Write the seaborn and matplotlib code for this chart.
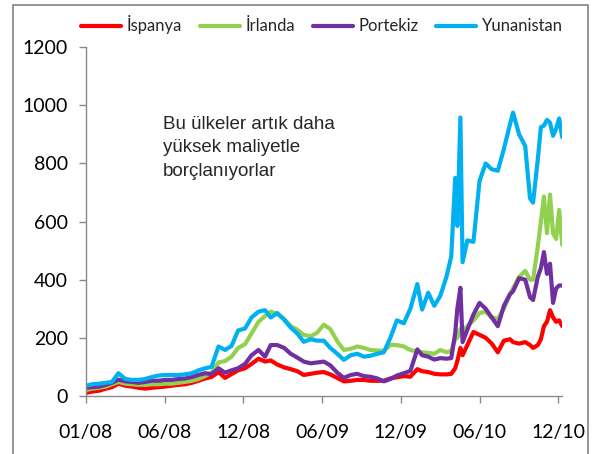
import pandas as pd
import matplotlib.pyplot as plt
from matplotlib.patches import Rectangle
import seaborn as sns

# === Data (spreads) ===
dates = [
    "2008-01-01", "2008-01-16", "2008-02-01", "2008-02-16", "2008-03-01", "2008-03-16",
    "2008-04-01", "2008-04-16", "2008-05-01", "2008-05-16", "2008-06-01", "2008-06-16",
    "2008-07-01", "2008-07-16", "2008-08-01", "2008-08-16", "2008-09-01", "2008-09-16",
    "2008-10-01", "2008-10-16", "2008-11-01", "2008-11-16", "2008-12-01", "2008-12-16",
    "2009-01-01", "2009-01-16", "2009-02-01", "2009-02-16", "2009-03-01", "2009-03-16",
    "2009-04-01", "2009-04-16", "2009-05-01", "2009-05-16", "2009-06-01", "2009-06-16",
    "2009-07-01", "2009-07-16", "2009-08-01", "2009-08-16", "2009-09-01", "2009-09-16",
    "2009-10-01", "2009-10-16", "2009-11-01", "2009-11-16", "2009-12-01", "2009-12-16",
    "2010-01-01", "2010-01-16", "2010-02-01", "2010-02-12", "2010-02-26", "2010-03-12",
    "2010-03-26", "2010-04-09", "2010-04-20", "2010-04-29", "2010-05-04", "2010-05-11",
    "2010-05-16", "2010-05-27", "2010-06-10", "2010-06-24", "2010-07-08", "2010-07-22",
    "2010-08-05", "2010-08-19", "2010-09-02", "2010-09-09", "2010-09-23", "2010-10-07",
    "2010-10-18", "2010-10-25", "2010-11-05", "2010-11-12", "2010-11-19", "2010-11-26",
    "2010-12-03", "2010-12-10", "2010-12-17", "2010-12-24", "2010-12-31",
]

ispanya = [
    10, 15, 18, 25, 30, 42, 35, 32, 28, 25, 28, 30,
    32, 35, 38, 40, 45, 52, 60, 65, 82, 62, 75, 88,
    95, 110, 128, 118, 122, 108, 98, 92, 85, 72, 76, 80,
    82, 74, 62, 50, 52, 55, 55, 52, 52, 52, 60, 64,
    68, 66, 92, 85, 82, 76, 74, 74, 76, 95, 120, 165,
    140, 175, 220, 210, 200, 180, 150, 190, 195, 185, 180, 185,
    175, 165, 175, 195, 240, 255, 295, 270, 255, 260, 240,
]

irlanda = [
    20, 25, 28, 32, 40, 48, 42, 40, 38, 38, 40, 40,
    42, 42, 45, 48, 52, 58, 68, 80, 115, 120, 135, 165,
    178, 215, 255, 275, 290, 282, 265, 240, 228, 210, 205, 218,
    245, 230, 188, 158, 162, 170, 165, 158, 156, 155, 175, 175,
    170, 158, 152, 150, 148, 145, 158, 150, 155, 195, 200, 230,
    225, 240, 260, 285, 290, 270, 265, 300, 350, 370, 410, 430,
    400, 400, 515, 600, 686, 560, 693, 560, 540, 640, 520,
]

portekiz = [
    28, 30, 32, 38, 45, 56, 50, 48, 45, 48, 52, 52,
    55, 55, 58, 60, 65, 72, 78, 75, 95, 80, 88, 95,
    110, 140, 158, 135, 175, 175, 165, 145, 132, 118, 112, 115,
    118, 105, 80, 62, 72, 76, 68, 66, 60, 50, 58, 70,
    78, 86, 160, 140, 135, 125, 130, 128, 130, 215, 300, 372,
    185, 228, 280, 320, 300, 270, 240, 310, 350, 360, 405, 400,
    340, 330, 410, 440, 495, 420, 455, 320, 370, 380, 380,
]

yunanistan = [
    35, 40, 42, 45, 48, 78, 58, 55, 55, 58, 65, 70,
    72, 72, 72, 74, 78, 88, 95, 100, 170, 158, 172, 225,
    232, 270, 290, 295, 270, 285, 262, 235, 215, 186, 195, 190,
    190, 165, 145, 124, 140, 145, 135, 138, 145, 150, 200, 260,
    250, 300, 385, 297, 355, 310, 345, 410, 480, 750, 585, 958,
    460, 535, 530, 740, 800, 780, 775, 850, 935, 975, 900, 860,
    680, 665, 815, 925, 930, 950, 940, 895, 920, 955, 890,
]

series_names = ["İspanya", "İrlanda", "Portekiz", "Yunanistan"]
series_colors = ["#FF0000", "#92D050", "#7030A0", "#00B0F0"]

tick_dates = ["2008-01-01", "2008-06-30", "2008-12-28", "2009-06-27",
              "2009-12-25", "2010-06-24", "2010-12-22"]
tick_labels = ["01/08", "06/08", "12/08", "06/09", "12/09", "06/10", "12/10"]
y_ticks = [0, 200, 400, 600, 800, 1000, 1200]

note = "Bu ülkeler artık daha\nyüksek maliyetle\nborçlanıyorlar"

# === Long format for seaborn ===
df = pd.DataFrame({"tarih": pd.to_datetime(dates)})
for name, vals in zip(series_names, [ispanya, irlanda, portekiz, yunanistan]):
    df[name] = vals
long_df = df.melt(id_vars="tarih", var_name="ulke", value_name="spread")

# === Plot ===
sns.set_theme(style="white")
plt.rcParams["font.family"] = ["Lato", "DejaVu Sans"]

fig = plt.figure(figsize=(6, 4.54), dpi=100)
ax = fig.add_axes([0.143, 0.128, 0.794, 0.768])

sns.lineplot(data=long_df, x="tarih", y="spread", hue="ulke",
             hue_order=series_names, palette=series_colors,
             linewidth=3.0, ax=ax, legend=False, sort=False)

ax.set_xlim(df["tarih"].iloc[0], df["tarih"].iloc[-1])
ax.set_ylim(0, 1200)
ax.set_yticks(y_ticks)
ax.set_xticks(pd.to_datetime(tick_dates))
ax.set_xticklabels(tick_labels)
ax.set_xlabel("")
ax.set_ylabel("")

for side in ["top", "right"]:
    ax.spines[side].set_visible(False)
for side in ["left", "bottom"]:
    ax.spines[side].set_color("#898989")
    ax.spines[side].set_linewidth(1.0)

ax.tick_params(axis="both", direction="out", length=5, width=1,
               color="#898989", labelsize=14, labelcolor="black",
               bottom=True, left=True)
ax.tick_params(axis="y", pad=8)
ax.tick_params(axis="x", pad=15)

# legend across the top
handles = ax.get_lines()[:4]
fig.legend(handles, series_names, loc="center", ncol=4,
           bbox_to_anchor=(0.537, 0.945), frameon=False, fontsize=12,
           handlelength=2.4, handletextpad=0.35, columnspacing=1.05)

# annotation
fig.text(0.272, 0.745, note, ha="left", va="top", fontsize=13.5,
         family="Liberation Sans", linespacing=1.5)

# grey frame around the chart area (Excel style)
fig.add_artist(Rectangle((13 / 600, -0.1), 575 / 600, 1.089, transform=fig.transFigure,
                         fill=False, edgecolor="#8c8c8c", linewidth=1.3))

fig.savefig("out.png", dpi=100)
